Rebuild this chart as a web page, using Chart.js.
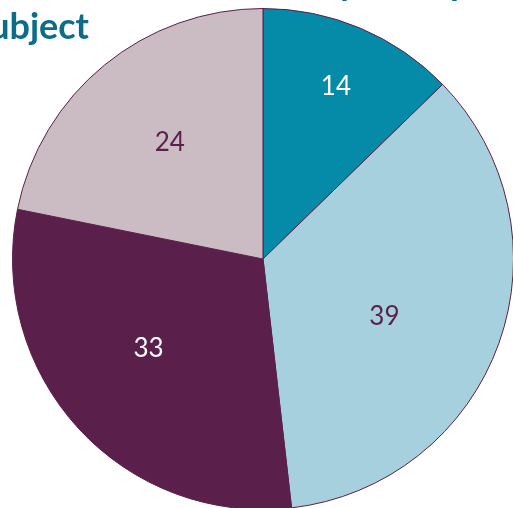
<!DOCTYPE html>
<html>
<head>
<meta charset="utf-8">
<script src="https://cdn.jsdelivr.net/npm/chart.js@4.4.1/dist/chart.umd.min.js"></script>
<style>
  html, body { margin: 0; padding: 0; background: #ffffff; overflow: hidden; width: 513px; height: 508px; }
  #wrap { position: absolute; left: 0; top: 0; width: 526px; height: 520px; }
</style>
</head>
<body>
<div id="wrap"><canvas id="chart"></canvas></div>
<script>
// Slice categories and their values (percent of lessons)
const categories = ['Group A', 'Group B', 'Group C', 'Group D'];
const values = [14, 39, 33, 24];
const sliceColors = ['#058aa7', '#a6d0dd', '#5a1f4a', '#cbbcc4'];
const labelColors = ['#ffffff', '#5a1f4a', '#ffffff', '#5a1f4a'];

// Title lines
const titleLine1 = 'Share of lessons delivered by their principal';
const titleLine2 = 'subject';

// Value labels placed inside each slice
const sliceLabels = {
  id: 'sliceLabels',
  afterDatasetsDraw(chart, args, opts) {
    const ctx = chart.ctx;
    const meta = chart.getDatasetMeta(0);
    ctx.save();
    ctx.font = opts.font;
    ctx.textAlign = 'center';
    ctx.textBaseline = 'middle';
    meta.data.forEach((arc, i) => {
      const p = arc.getProps(['x', 'y', 'startAngle', 'endAngle', 'outerRadius'], true);
      const mid = (p.startAngle + p.endAngle) / 2 + opts.angleOffset[i] * Math.PI / 180;
      const r = p.outerRadius * opts.radiusFactor[i];
      ctx.fillStyle = labelColors[i];
      ctx.fillText(String(values[i]), p.x + Math.cos(mid) * r, p.y + Math.sin(mid) * r);
    });
    ctx.restore();
  }
};

// Two-line heading, partly running off the canvas edges
const heading = {
  id: 'heading',
  afterDraw(chart) {
    const ctx = chart.ctx;
    ctx.save();
    ctx.font = 'bold 36px Lato, "DejaVu Sans", sans-serif';
    ctx.fillStyle = '#0d6c89';
    ctx.textBaseline = 'alphabetic';
    ctx.textAlign = 'left';
    const prefix = 'Share of lessons delivered ';
    const x1 = 318 - ctx.measureText(prefix).width;
    ctx.fillText(titleLine1, x1, -5);
    ctx.textAlign = 'right';
    ctx.fillText(titleLine2, 89, 39);
    ctx.restore();
  }
};

new Chart(document.getElementById('chart'), {
  type: 'pie',
  data: {
    labels: categories,
    datasets: [{
      data: values,
      backgroundColor: sliceColors,
      borderColor: '#5a1f4a',
      borderWidth: 1
    }]
  },
  options: {
    responsive: true,
    maintainAspectRatio: false,
    animation: false,
    layout: { padding: { left: 12, top: 8, right: 12, bottom: 10 } },
    plugins: {
      legend: { display: false },
      tooltip: { enabled: false },
      title: { display: false },
      sliceLabels: {
        font: '26px Lato, "DejaVu Sans", sans-serif',
        radiusFactor: [0.748, 0.536, 0.58, 0.596],
        angleOffset: [0, 5.6, 4.5, 0.6]
      }
    }
  },
  plugins: [sliceLabels, heading]
});
</script>
</body>
</html>
